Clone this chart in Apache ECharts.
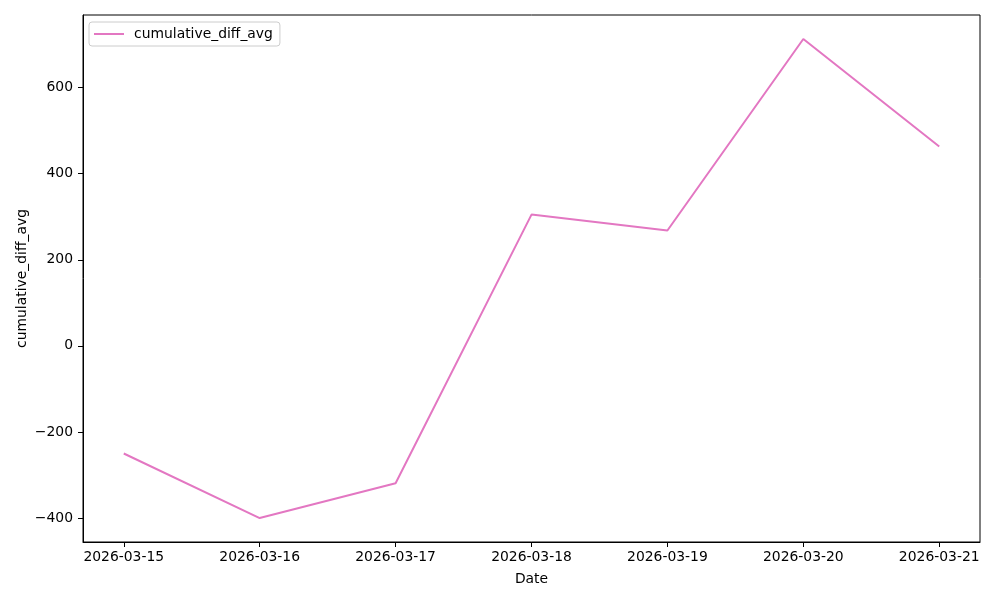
<!DOCTYPE html>
<html>
<head>
<meta charset="utf-8">
<script src="https://cdn.jsdelivr.net/npm/echarts@6/dist/echarts.min.js"></script>
<style>html,body{margin:0;padding:0;background:#fff}#c{width:1000px;height:600px}</style>
</head>
<body>
<div id="c"></div>
<script>
const dates = ['2026-03-15','2026-03-16','2026-03-17','2026-03-18','2026-03-19','2026-03-20','2026-03-21'];
const values = [-250, -400, -319, 305, 268, 713, 463];
const yTicks = [-400, -200, 0, 200, 400, 600];
const seriesName = 'cumulative_diff_avg';

const FONT = 'DejaVu Sans';
const FS = 13.9;
const vMin = Math.min(...values), vMax = Math.max(...values);
const pad = (vMax - vMin) * 0.05;
const xPad = (dates.length - 1) * 0.05;

const chart = echarts.init(document.getElementById('c'), null, {renderer: 'canvas'});
chart.setOption({
  animation: false,
  textStyle: {fontFamily: FONT},
  grid: {left: 83, right: 20, top: 15, bottom: 58, show: true, borderColor: '#000', borderWidth: 1, containLabel: false},
  legend: {
    left: 89, top: 22, padding: [5, 7, 5, 5],
    borderColor: '#cccccc', borderWidth: 1, borderRadius: 3,
    itemWidth: 30, itemHeight: 2, itemGap: 10,
    icon: 'rect',
    itemStyle: {color: '#e377c2'},
    textStyle: {fontFamily: FONT, fontSize: FS, color: '#000', padding: [0, 0, 0, 5]},
    data: [seriesName]
  },
  xAxis: {
    type: 'value',
    min: -xPad, max: dates.length - 1 + xPad,
    name: 'Date', nameLocation: 'middle', nameGap: 30,
    nameTextStyle: {fontFamily: FONT, fontSize: FS, color: '#000'},
    splitLine: {show: false},
    axisLine: {show: true, onZero: false, lineStyle: {color: '#000', width: 1}},
    axisTick: {show: true, length: 5, lineStyle: {color: '#000'}, customValues: dates.map((d, i) => i)},
    axisLabel: {color: '#000', fontFamily: FONT, fontSize: FS, margin: 8,
      customValues: dates.map((d, i) => i),
      formatter: v => dates[Math.round(v)] || ''}
  },
  yAxis: {
    type: 'value',
    min: vMin - pad, max: vMax + pad,
    name: 'cumulative_diff_avg', nameLocation: 'middle', nameGap: 54,
    nameMoveOverlap: false,
    nameTextStyle: {fontFamily: FONT, fontSize: FS, color: '#000'},
    splitLine: {show: false},
    axisLine: {show: true, onZero: false, lineStyle: {color: '#000', width: 1}},
    axisTick: {show: true, length: 5, lineStyle: {color: '#000'}, customValues: yTicks},
    axisLabel: {color: '#000', fontFamily: FONT, fontSize: FS, margin: 10,
      customValues: yTicks,
      formatter: v => (v < 0 ? '\u2212' + Math.abs(v) : String(v))}
  },
  series: [{
    name: seriesName, type: 'line', symbol: 'none',
    lineStyle: {color: '#e377c2', width: 2}, itemStyle: {color: '#e377c2'},
    data: values.map((v, i) => [i, v])
  }]
});
</script>
</body>
</html>
